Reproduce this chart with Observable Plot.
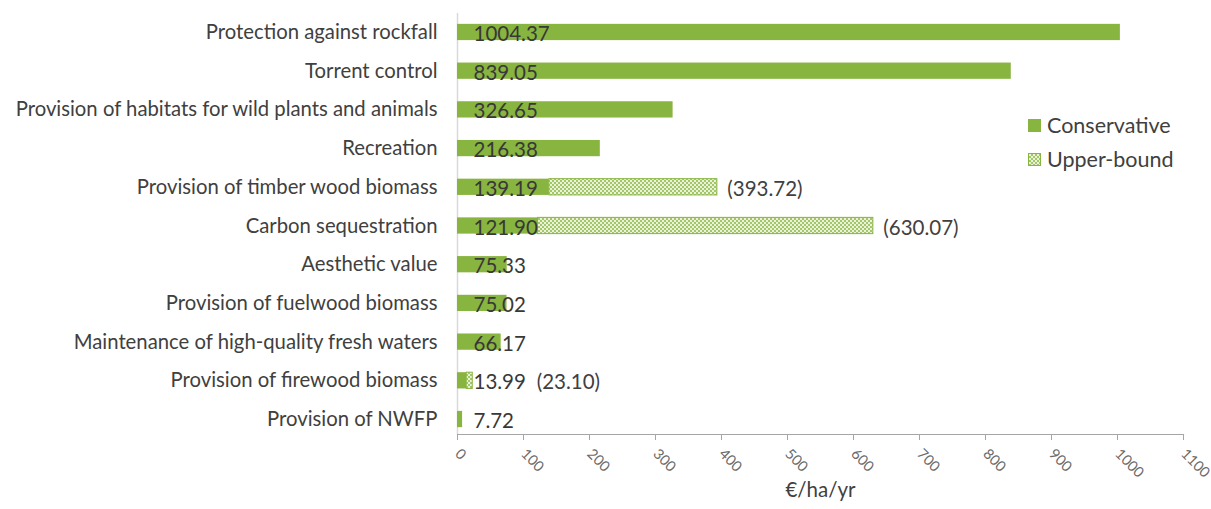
<!DOCTYPE html>
<html>
<head>
<meta charset="utf-8">
<script src="https://cdn.jsdelivr.net/npm/d3@7"></script>
<script src="https://cdn.jsdelivr.net/npm/@observablehq/plot@0.6"></script>
<style>
  html, body { margin: 0; padding: 0; background: #fff; }
  #wrap { position: relative; width: 1211px; height: 509px; font-family: Lato, "Noto Sans", sans-serif; }
  .legend { position: absolute; left: 1028px; font-size: 21.5px; color: #404040; display: flex; align-items: center; line-height: 1; }
  .legend .sw { width: 13px; height: 13px; margin-right: 6px; }
</style>
</head>
<body>
<div id="wrap"></div>
<script>
const categories = [
  "Protection against rockfall",
  "Torrent control",
  "Provision of habitats for wild plants and animals",
  "Recreation",
  "Provision of timber wood biomass",
  "Carbon sequestration",
  "Aesthetic value",
  "Provision of fuelwood biomass",
  "Maintenance of high-quality fresh waters",
  "Provision of firewood biomass",
  "Provision of NWFP"
];
const conservative = [1004.37, 839.05, 326.65, 216.38, 139.19, 121.90, 75.33, 75.02, 66.17, 13.99, 7.72];
const upperBound = [null, null, null, null, 393.72, 630.07, null, null, null, 23.10, null];
const xTicks = [0, 100, 200, 300, 400, 500, 600, 700, 800, 900, 1000, 1100];
const seriesNames = ["Conservative", "Upper-bound"];
const axisLabel = "€/ha/yr";

const rows = categories.map((c, i) => ({category: c, cons: conservative[i], upper: upperBound[i]}));
const upperRows = rows.filter(d => d.upper != null);
// labels for short upper-bound segments are pushed past the conservative label
const upperLong = upperRows.filter(d => d.upper >= 100);
const upperShort = upperRows.filter(d => d.upper < 100);

const green = "#88b440";
const textColor = "#404040";
const labelSize = 20.5;

const chart = Plot.plot({
  width: 1211,
  height: 509,
  marginLeft: 457,
  marginRight: 28,
  marginTop: 13,
  marginBottom: 75,
  style: {fontFamily: "Lato, 'Noto Sans', sans-serif", color: textColor, background: "#fff", overflow: "visible"},
  x: {domain: [0, 1100], ticks: xTicks, tickRotate: 45, label: null},
  y: {domain: categories, range: [4.5, 446.5], round: false, paddingInner: 0.58, paddingOuter: 0.5, label: null},
  marks: [
    Plot.ruleX([0], {stroke: "#d9d9d9", strokeWidth: 1.5}),
    Plot.frame({anchor: "bottom", stroke: "#a6a6a6", strokeWidth: 1.2}),
    Plot.barX(rows, {x1: 0, x2: "cons", y: "category", fill: green}),
    Plot.barX(upperRows, {x1: "cons", x2: "upper", y: "category", fill: "url(#hatch)", stroke: green, strokeWidth: 1}),
    Plot.text(rows, {x: 0, y: "category", text: d => d.cons.toFixed(2), dx: 16, dy: 2, textAnchor: "start", fontSize: labelSize, fill: "#383838"}),
    Plot.text(upperLong, {x: "upper", y: "category", text: d => "(" + d.upper.toFixed(2) + ")", dx: 10, dy: 2, textAnchor: "start", fontSize: labelSize, fill: textColor}),
    Plot.text(upperShort, {x: "upper", y: "category", text: d => "(" + d.upper.toFixed(2) + ")", dx: 64, dy: 2, textAnchor: "start", fontSize: labelSize, fill: textColor}),
    Plot.axisY({tickSize: 0, tickPadding: 20, fontSize: 20.3, fill: textColor}),
    Plot.axisX({ticks: xTicks, tickFormat: d => String(d), tickRotate: 45, tickSize: 6, stroke: "#a6a6a6", fontSize: 14.5, fill: "#6a6a6a", tickPadding: 11,
                label: axisLabel, labelAnchor: "center", labelOffset: 62, labelArrow: "none"})
  ]
});

// hatch pattern
const ns = "http://www.w3.org/2000/svg";
const defs = document.createElementNS(ns, "defs");
defs.innerHTML = `<pattern id="hatch" width="4" height="4" patternUnits="userSpaceOnUse">
  <rect width="4" height="4" fill="#eaf2dc"/>
  <rect x="0" y="0" width="2" height="2" fill="#a3c666"/>
  <rect x="2" y="2" width="2" height="2" fill="#a3c666"/>
</pattern>`;
chart.insertBefore(defs, chart.firstChild);
// axis title styling
chart.querySelectorAll("text").forEach(t => {
  if (t.textContent.startsWith(axisLabel)) {
    t.textContent = axisLabel;
    t.setAttribute("font-size", "20.5");
    t.setAttribute("fill", textColor);
  }
});

const wrap = document.getElementById("wrap");
wrap.appendChild(chart);

const legendItems = [
  {name: seriesNames[0], top: 115, fill: green},
  {name: seriesNames[1], top: 149, fill: "hatch"}
];
legendItems.forEach(item => {
  const div = document.createElement("div");
  div.className = "legend";
  div.style.top = item.top + "px";
  const sw = document.createElement("div");
  sw.className = "sw";
  if (item.fill === "hatch") {
    sw.style.background = "repeating-conic-gradient(#a3c666 0% 25%, #eaf2dc 0% 50%) 0 0 / 4px 4px";
    sw.style.boxSizing = "border-box";
    sw.style.border = "1px solid " + green;
  } else {
    sw.style.background = item.fill;
  }
  const label = document.createElement("span");
  label.textContent = item.name;
  div.appendChild(sw);
  div.appendChild(label);
  wrap.appendChild(div);
});
</script>
</body>
</html>
